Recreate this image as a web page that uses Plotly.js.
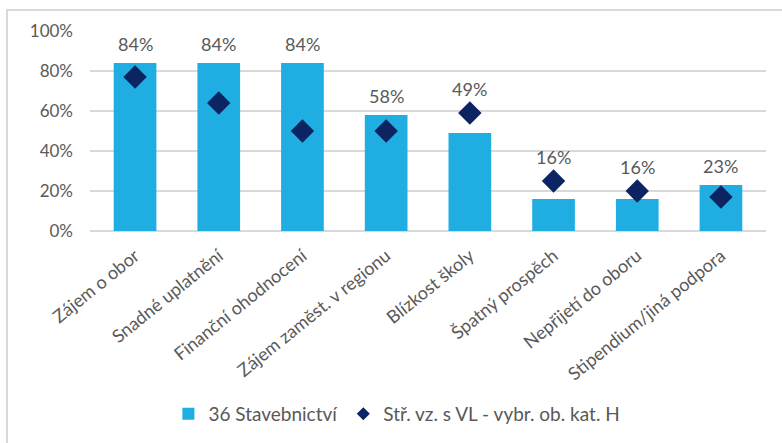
<!DOCTYPE html>
<html>
<head>
<meta charset="utf-8">
<script src="https://cdn.plot.ly/plotly-3.0.1.min.js"></script>
<style>
html,body{margin:0;padding:0;background:#fff;}
#wrap{position:relative;width:782px;height:443px;overflow:hidden;}
#chart{width:782px;height:443px;}
#frame{position:absolute;left:6px;top:9px;width:800px;height:460px;border-left:2px solid #d9d9d9;border-top:2px solid #d9d9d9;pointer-events:none;}
</style>
</head>
<body>
<div id="wrap"><div id="chart"></div><div id="frame"></div></div>
<script>
const categories = ["Zájem o obor","Snadné uplatnění","Finanční ohodnocení","Zájem zaměst. v regionu","Blízkost školy","Špatný prospěch","Nepřijetí do oboru","Stipendium/jiná podpora"];
const barValues = [0.84,0.84,0.84,0.58,0.49,0.16,0.16,0.23];
const diamondValues = [0.77,0.64,0.50,0.50,0.59,0.25,0.20,0.17];
const barName = "36 Stavebnictví";
const diamondName = "Stř. vz. s VL - vybr. ob. kat. H";
const yTicks = [0,0.2,0.4,0.6,0.8,1.0];
const yTickText = ["0%","20%","40%","60%","80%","100%"];

const font = "Lato, 'Open Sans', sans-serif";
const grey = "#595959";
const navy = "#0c2461";

const traces = [
  {type:"bar", x:categories, y:barValues, name:barName, marker:{color:"#1fade2"}, width:0.51, hoverinfo:"none"},
  {type:"scatter", mode:"markers", x:categories, y:diamondValues, name:diamondName, showlegend:false,
   marker:{symbol:"diamond", size:18, color:navy}, hoverinfo:"none"},
  // legend entry only (smaller symbol, like the original legend)
  {type:"scatter", mode:"markers", x:[categories[0]], y:[null], name:diamondName, showlegend:true,
   marker:{symbol:"diamond", size:10, color:navy}, hoverinfo:"none"}
];

const annotations = categories.map((c,i)=>{
  const top = Math.max(barValues[i], diamondValues[i]);
  return {
    x:c, y:top, xref:"x", yref:"y", text:Math.round(barValues[i]*100)+"%",
    showarrow:false, yanchor:"middle", yshift:(barValues[i]>=diamondValues[i]?19:24),
    font:{family:font,size:18,color:grey}
  };
});

const layout = {
  width:782, height:443,
  margin:{l:90,r:16,t:31,b:211},
  paper_bgcolor:"#fff", plot_bgcolor:"#fff",
  font:{family:font,color:grey},
  bargap:0.49,
  xaxis:{type:"category", tickangle:-39, tickfont:{family:font,size:18,color:grey},
         showgrid:false, showline:false, zeroline:false, ticks:"", ticklabelstandoff:10, automargin:false},
  yaxis:{range:[0,1.0], tickvals:yTicks, ticktext:yTickText, tickfont:{family:font,size:17,color:grey},
         showgrid:true, gridcolor:"#d9d9d9", gridwidth:1.5, zeroline:true, zerolinecolor:"#d9d9d9", zerolinewidth:1.5,
         showline:false, ticks:"", ticklabelstandoff:16, automargin:false},
  showlegend:true,
  legend:{orientation:"h", x:0.454, xanchor:"center", y:-0.905, yanchor:"middle",
          font:{family:font,size:19,color:grey}, traceorder:"normal"},
  annotations:annotations
};

Plotly.newPlot("chart", traces, layout, {staticPlot:true, displayModeBar:false});
</script>
</body>
</html>
